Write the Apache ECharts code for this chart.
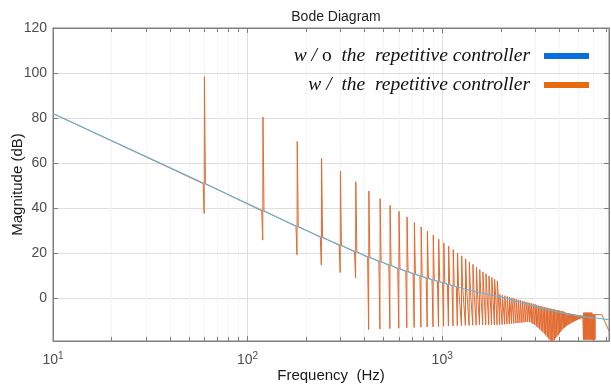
<!DOCTYPE html>
<html>
<head>
<meta charset="utf-8">
<script src="https://cdn.jsdelivr.net/npm/echarts@6/dist/echarts.min.js"></script>
<style>
  html, body { margin: 0; padding: 0; background: #fff; }
  #chart { width: 611px; height: 390px; }
</style>
</head>
<body>
<div id="chart"></div>
<script>
// 谐波频率 (Hz)
const harmonicHz = [
  60, 120, 180, 240, 300, 360, 420, 480, 540, 600,
  660, 720, 780, 840, 900, 960, 1020, 1080, 1140, 1200,
  1260, 1320, 1380, 1440, 1500, 1560, 1620, 1680, 1740, 1800,
  1860, 1920, 1980, 2040, 2100, 2160, 2220, 2280, 2340, 2400,
  2460, 2520, 2580, 2640, 2700, 2760, 2820, 2880, 2940, 3000,
  3060, 3120, 3180, 3240, 3300, 3360, 3420, 3480, 3540, 3600,
  3660, 3720, 3780, 3840, 3900, 3960, 4020, 4080, 4140, 4200,
  4260, 4320, 4380, 4440, 4500, 4560, 4620, 4680, 4740, 4800,
  4860, 4920, 4980, 5040, 5100, 5160, 5220, 5280, 5340, 5400,
  5460, 5520, 5580, 5640, 5700, 5760, 5820, 5880, 5940, 6000,
  6060, 6120
]
// w/o 曲线在各谐波处的幅值 (dB)
const baseDb = [
  50.9, 38.8, 31.9, 27.1, 23.5, 20.6, 18.2, 16.3, 14.6, 13.1,
  11.9, 10.8, 9.8, 8.9, 8.1, 7.4, 6.7, 6.1, 5.5, 5.0,
  4.5, 4.0, 3.6, 3.2, 2.8, 2.5, 2.2, 1.9, 1.6, 1.3,
  1.1, 0.9, 0.7, 0.45, 0.2, -0.1, -0.4, -0.7, -1.0, -1.3,
  -1.6, -1.8, -2.1, -2.3, -2.6, -2.8, -3.0, -3.2, -3.4, -3.6,
  -3.8, -4.0, -4.2, -4.35, -4.5, -4.7, -4.85, -5.0, -5.15, -5.3,
  -5.45, -5.6, -5.7, -5.85, -6.0, -6.1, -6.25, -6.35, -6.5, -6.6,
  -6.7, -6.8, -6.95, -7.05, -7.15, -7.25, -7.35, -7.45, -7.5, -7.6,
  -7.7, -7.8, -7.85, -7.95, -8.0, -8.1, -8.15, -8.2, -8.25, -8.3,
  -8.35, -8.4, -8.45, -8.5, -8.55, -8.6, -8.6, -8.65, -8.7, -8.75,
  -8.8, -8.8
]
// w/ 曲线谐振峰值 (dB)
const peakDb = [
  98.4, 80.4, 69.6, 62.1, 56.4, 51.7, 47.6, 44.2, 41.2, 38.6,
  36.1, 33.6, 31.7, 29.8, 28.0, 26.2, 24.6, 23.1, 21.6, 20.1,
  18.8, 17.5, 16.1, 15.0, 13.9, 12.7, 11.7, 10.8, 9.9, 9.2,
  8.4, 7.7, 1.7, 1.4, 1.1, 0.8, 0.5, 0.2, -0.1, -0.4,
  -0.7, -0.9, -1.2, -1.4, -1.7, -1.9, -2.1, -2.3, -2.5, -2.7,
  -3.1, -3.3, -3.5, -3.65, -3.8, -4.0, -4.15, -4.3, -4.45, -4.6,
  -4.75, -4.9, -5.0, -5.15, -5.3, -5.4, -5.55, -5.65, -5.8, -5.9,
  -6.3, -6.4, -6.55, -6.65, -6.75, -6.85, -6.95, -7.05, -7.1, -7.2,
  -7.3, -7.4, -7.45, -7.55, -7.6, -7.7, -7.75, -7.8, -6.4, -6.4,
  -6.4, -6.4, -6.4, -6.4, -6.4, -6.4, -6.4, -6.4, -7.2, -7.2,
  -7.2, -7.2
]
// w/ 曲线谐振谷值 (dB)
const dipDb = [
  37.6, 25.8, 19.3, 14.7, 11.4, 9.0, -13.9, -13.7, -13.5, -13.3,
  -13.1, -13.0, -12.9, -12.8, -12.7, -12.6, -12.5, -12.4, -12.3, -12.2,
  -12.2, -12.1, -12.1, -12.0, -12.0, -11.9, -11.9, -11.9, -11.8, -11.8,
  -11.8, -11.8, -11.8, -11.7, -11.6, -11.5, -11.4, -11.3, -11.2, -11.1,
  -11.0, -10.9, -10.8, -10.7, -10.6, -10.5, -10.5, -10.9, -11.4, -11.9,
  -12.5, -13.1, -13.8, -14.4, -15.1, -15.8, -16.5, -17.2, -17.9, -18.7,
  -20.0, -19.3, -18.5, -17.8, -17.1, -16.4, -15.6, -14.9, -14.2, -13.5,
  -13.1, -12.7, -12.3, -11.9, -11.6, -11.3, -11.0, -10.7, -10.5, -10.2,
  -10.0, -9.8, -9.6, -9.3, -9.1, -9.0, -8.9, -8.8, -18.4, -18.4,
  -18.4, -18.4, -18.4, -18.4, -18.4, -18.4, -18.4, -18.4, -18.4, -18.4,
  -18.4, -18.4
]
const startHz = 10
const startDb = 82
const blueTailHz = [6600, 7200]
const blueTailDb = [-9.1, -9.5]
const orangeTailHz = [6180, 6620, 7200]
const orangeTailDb = [-7.3, -7.4, -14.6]

const NAME_WO = 'w/o the repetitive controller'
const NAME_W = 'w/ the repetitive controller'

// 无重复控制器
const withoutRc = [[startHz, startDb]]
harmonicHz.forEach((f, i) => withoutRc.push([f, baseDb[i]]))
blueTailHz.forEach((f, i) => withoutRc.push([f, blueTailDb[i]]))

// 有重复控制器
const withRc = [[startHz, startDb]]
harmonicHz.forEach((f, i) => {
  if (f < 1950) withRc.push([f * 0.985, baseDb[i]])
  withRc.push([f * 0.997, dipDb[i]], [f, peakDb[i]])
  if (f < 1950) withRc.push([f * 1.012, baseDb[i]])
})
orangeTailHz.forEach((f, i) => withRc.push([f, orangeTailDb[i]]))

const axisGray = '#7f7f7f'
const labelGray = '#4d4d4d'

const chart = echarts.init(document.getElementById('chart'))
chart.setOption({
  animation: false,
  title: {
    text: 'Bode Diagram',
    left: 331,
    top: 5,
    textAlign: 'center',
    textStyle: { fontFamily: 'Liberation Sans', fontSize: 14, fontWeight: 'normal', color: '#222' }
  },
  legend: {
    orient: 'vertical',
    right: 17,
    top: 41,
    align: 'right',
    icon: 'rect',
    itemWidth: 45,
    itemHeight: 6,
    itemGap: 9,
    data: [
      { name: NAME_WO, itemStyle: { color: '#0a6fdc' } },
      { name: NAME_W, itemStyle: { color: '#e8690f' } }
    ],
    formatter: name => name === NAME_WO
      ? '{i|w / }{r|o}{i|  the  repetitive controller}'
      : '{i|w /  the  repetitive controller}',
    textStyle: {
      padding: [0, 9, 0, 0],
      lineHeight: 20,
      rich: {
        i: { fontFamily: 'Liberation Serif', fontStyle: 'italic', fontSize: 19.5, color: '#111', lineHeight: 20 },
        r: { fontFamily: 'Liberation Serif', fontSize: 19.5, color: '#111', lineHeight: 20 }
      }
    }
  },
  grid: {
    left: 53, right: 2, top: 28, bottom: 49,
    containLabel: false,
    outerBoundsMode: 'none',
    show: true, borderColor: axisGray, borderWidth: 1
  },
  xAxis: [
    {
      type: 'log',
      min: 10,
      max: 7200,
      name: 'Frequency  (Hz)',
      nameLocation: 'middle',
      nameGap: 27,
      nameMoveOverlap: false,
      nameTextStyle: { fontFamily: 'Liberation Sans', fontSize: 15, color: '#1a1a1a' },
      axisLine: { onZero: false, lineStyle: { color: axisGray } },
      axisTick: { inside: true, length: 5, lineStyle: { color: axisGray } },
      minorTick: { show: true, splitNumber: 9, length: 4, lineStyle: { color: axisGray } },
      axisLabel: {
        showMaxLabel: false,
        margin: 10,
        formatter: v => '{b|10}{s|' + Math.round(Math.log10(v)) + '}',
        rich: {
          b: { fontFamily: 'Liberation Sans', fontSize: 14, color: labelGray, lineHeight: 18 },
          s: { fontFamily: 'Liberation Sans', fontSize: 10, color: labelGray, verticalAlign: 'top', lineHeight: 18 }
        }
      },
      splitLine: { show: true, lineStyle: { color: '#dedede' } },
      minorSplitLine: { show: true, lineStyle: { color: '#ececec', type: 'dotted' } }
    },
    {
      type: 'log',
      min: 10,
      max: 7200,
      position: 'top',
      axisLine: { onZero: false, lineStyle: { color: axisGray } },
      axisTick: { inside: true, length: 5, lineStyle: { color: axisGray } },
      minorTick: { show: true, splitNumber: 9, length: 4, lineStyle: { color: axisGray } },
      axisLabel: { show: false },
      splitLine: { show: false }
    }
  ],
  yAxis: [
    {
      type: 'value',
      min: -19,
      max: 120,
      splitNumber: 7,
      name: 'Magnitude (dB)',
      nameLocation: 'middle',
      nameGap: 28,
      nameMoveOverlap: false,
      nameTextStyle: { fontFamily: 'Liberation Sans', fontSize: 15, color: '#1a1a1a' },
      axisLine: { show: true, onZero: false, lineStyle: { color: axisGray } },
      axisTick: { show: true, inside: true, length: 5, lineStyle: { color: axisGray } },
      axisLabel: {
        showMinLabel: false,
        margin: 6,
        fontFamily: 'Liberation Sans',
        fontSize: 14,
        color: labelGray
      },
      splitLine: { show: true, lineStyle: { color: '#dedede' } }
    },
    {
      type: 'value',
      min: -19,
      max: 120,
      splitNumber: 7,
      position: 'right',
      axisLine: { show: true, onZero: false, lineStyle: { color: axisGray } },
      axisTick: { show: true, inside: true, length: 5, lineStyle: { color: axisGray } },
      axisLabel: { show: false },
      splitLine: { show: false }
    }
  ],
  series: [
    {
      name: NAME_W,
      type: 'line',
      data: withRc,
      showSymbol: false,
      clip: true,
      z: 2,
      lineStyle: { width: 1, color: '#e0692f' },
      itemStyle: { color: '#e8690f' }
    },
    {
      name: NAME_WO,
      type: 'line',
      data: withoutRc,
      showSymbol: false,
      clip: true,
      z: 3,
      lineStyle: { width: 1.1, color: '#62b8de' },
      itemStyle: { color: '#0a6fdc' }
    }
  ]
})
</script>
</body>
</html>
